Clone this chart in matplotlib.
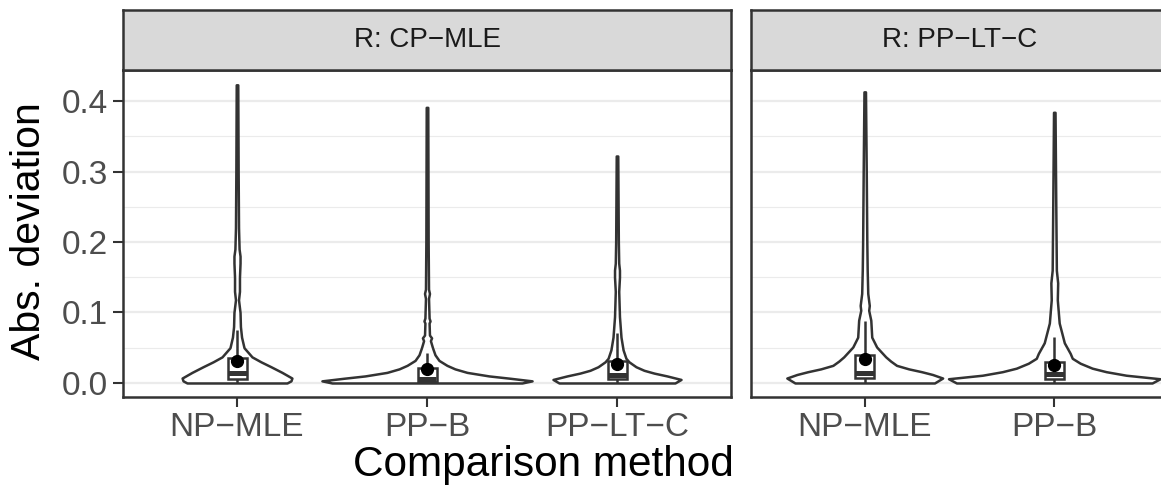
import numpy as np
import matplotlib.pyplot as plt
from matplotlib.patches import Rectangle

plt.rcParams['font.family'] = ['Liberation Sans', 'DejaVu Sans']

# facets (reference method) and the comparison methods inside each
facets = ['R: CP−MLE', 'R: PP−LT−C']
methods_cp = ['NP−MLE', 'PP−B', 'PP−LT−C']
methods_pp = ['NP−MLE', 'PP−B']

# violin outlines: heights and half-widths (category units)
cp_npmle_y = [0.000, 0.003, 0.007, 0.015, 0.023, 0.030, 0.037, 0.050, 0.065, 0.080,
              0.100, 0.118, 0.130, 0.150, 0.170, 0.180, 0.190, 0.220, 0.300, 0.423]
cp_npmle_w = [0.263, 0.284, 0.289, 0.237, 0.179, 0.126, 0.079, 0.037, 0.024, 0.018,
              0.016, 0.008, 0.013, 0.013, 0.016, 0.016, 0.011, 0.008, 0.006, 0.004]
cp_ppb_y = [0.000, 0.003, 0.0067, 0.010, 0.015, 0.020, 0.025, 0.032, 0.040, 0.050, 0.060,
            0.064, 0.068, 0.085, 0.088, 0.092, 0.120, 0.127, 0.133, 0.200, 0.300, 0.391]
cp_ppb_w = [0.500, 0.553, 0.437, 0.326, 0.211, 0.147, 0.105, 0.063, 0.042, 0.029, 0.018,
            0.024, 0.013, 0.011, 0.016, 0.011, 0.008, 0.013, 0.008, 0.006, 0.005, 0.004]
cp_ppltc_y = [0.000, 0.005, 0.010, 0.014, 0.018, 0.023, 0.030, 0.035, 0.047, 0.065,
              0.094, 0.130, 0.150, 0.160, 0.170, 0.200, 0.322]
cp_ppltc_w = [0.305, 0.337, 0.263, 0.195, 0.142, 0.100, 0.063, 0.047, 0.032, 0.021,
              0.013, 0.009, 0.013, 0.013, 0.009, 0.007, 0.004]
pp_npmle_y = [0.000, 0.007, 0.012, 0.016, 0.020, 0.025, 0.031, 0.037, 0.051, 0.065,
              0.089, 0.103, 0.110, 0.127, 0.160, 0.200, 0.300, 0.413]
pp_npmle_w = [0.368, 0.411, 0.358, 0.300, 0.232, 0.168, 0.137, 0.111, 0.063, 0.037,
              0.032, 0.021, 0.024, 0.016, 0.013, 0.011, 0.008, 0.004]
pp_ppb_y = [0.000, 0.006, 0.011, 0.016, 0.021, 0.028, 0.035, 0.042, 0.057, 0.085,
            0.118, 0.142, 0.160, 0.250, 0.384]
pp_ppb_w = [0.516, 0.558, 0.379, 0.274, 0.200, 0.137, 0.095, 0.084, 0.053, 0.026,
            0.016, 0.018, 0.011, 0.008, 0.004]

# boxplot stats: lower whisker, Q1, median, Q3, upper whisker; and means
cp_box = [[0.0, 0.006, 0.014, 0.035, 0.075],
          [0.0, 0.001, 0.005, 0.021, 0.042],
          [0.0, 0.005, 0.012, 0.031, 0.071]]
cp_mean = [0.031, 0.020, 0.027]
pp_box = [[0.0, 0.007, 0.014, 0.040, 0.088],
          [0.0, 0.006, 0.013, 0.030, 0.065]]
pp_mean = [0.034, 0.025]

dark = '#333333'
W, H = 1161, 491


def place(l, t, r, b):
    return [l / W, 1 - b / H, (r - l) / W, (b - t) / H]


fig = plt.figure(figsize=(W / 100, H / 100), dpi=100)
ax1 = fig.add_axes(place(123, 70, 731, 397))
ax2 = fig.add_axes(place(751, 70, 1168, 397))
st1 = fig.add_axes(place(123, 10, 731, 70))
st2 = fig.add_axes(place(751, 10, 1168, 70))

panels = [
    (ax1, st1, facets[0], methods_cp,
     [(cp_npmle_y, cp_npmle_w), (cp_ppb_y, cp_ppb_w), (cp_ppltc_y, cp_ppltc_w)],
     cp_box, cp_mean),
    (ax2, st2, facets[1], methods_pp,
     [(pp_npmle_y, pp_npmle_w), (pp_ppb_y, pp_ppb_w)],
     pp_box, pp_mean),
]

lw = 1.8
for ax, st, title, methods, violins, boxes, means in panels:
    pos = np.arange(1, len(methods) + 1)
    for x, (vy, vw) in zip(pos, violins):
        vy = np.array(vy)
        vw = np.array(vw)
        ax.fill_betweenx(vy, x - vw, x + vw, facecolor='white', edgecolor=dark,
                         linewidth=lw, zorder=2)
    for x, (lo, q1, med, q3, hi), m in zip(pos, boxes, means):
        ax.vlines(x, q3, hi, color=dark, linewidth=lw, zorder=3)
        ax.vlines(x, lo, q1, color=dark, linewidth=lw, zorder=3)
        ax.add_patch(Rectangle((x - 0.05, q1), 0.1, q3 - q1, facecolor='white',
                               edgecolor=dark, linewidth=lw, zorder=3))
        ax.hlines(med, x - 0.05, x + 0.05, color=dark, linewidth=2 * lw, zorder=4)
        ax.plot(x, m, 'o', color='black', markersize=8.5, zorder=5)

    ax.set_xlim(0.4, len(methods) + 0.6)
    ax.set_ylim(-0.0199, 0.444)
    ax.set_xticks(pos)
    ax.set_xticklabels(methods, fontsize=24, color='#4D4D4D')
    ax.set_yticks([0.0, 0.1, 0.2, 0.3, 0.4])
    ax.set_yticks([0.05, 0.15, 0.25, 0.35], minor=True)
    ax.grid(axis='y', which='major', color='#EBEBEB', linewidth=1.6)
    ax.grid(axis='y', which='minor', color='#EBEBEB', linewidth=0.8)
    ax.set_axisbelow(True)
    ax.tick_params(axis='both', which='major', length=7, width=1.5, color=dark, pad=4)
    ax.tick_params(axis='y', which='minor', length=0)
    for sp in ax.spines.values():
        sp.set_color(dark)
        sp.set_linewidth(1.8)

    st.set_facecolor('#D9D9D9')
    st.set_xticks([])
    st.set_yticks([])
    for sp in st.spines.values():
        sp.set_color(dark)
        sp.set_linewidth(1.8)
    st.text(0.5, 0.5, title, transform=st.transAxes, ha='center', va='center',
            fontsize=20, color='#1A1A1A')

ax1.set_yticklabels(['0.0', '0.1', '0.2', '0.3', '0.4'], fontsize=24, color='#4D4D4D')
ax2.tick_params(axis='y', which='major', length=0, labelleft=False)

fig.text(29 / W, 1 - 231 / H, 'Abs. deviation', rotation=90, ha='center', va='center',
         fontsize=29.5, color='black')
fig.text(543 / W, 1 - 476 / H, 'Comparison method', ha='center',
         va='baseline', fontsize=30.5, color='black')

fig.savefig('out.png', dpi=100)
